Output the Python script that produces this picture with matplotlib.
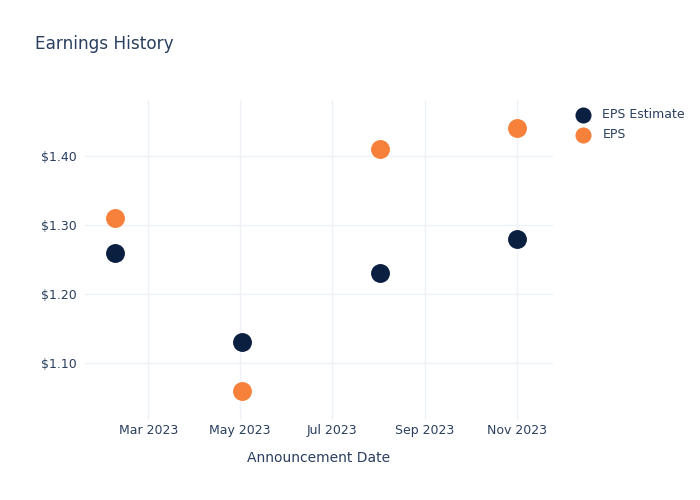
import matplotlib
matplotlib.use("Agg")
import matplotlib.pyplot as plt
import datetime as dt

dates = ["2023-02-07", "2023-05-02", "2023-08-02", "2023-11-01"]
eps_estimate = [1.26, 1.13, 1.23, 1.28]
eps_actual = [1.31, 1.06, 1.41, 1.44]
y_ticks = [1.10, 1.20, 1.30, 1.40]
x_ticks = ["2023-03-01", "2023-05-01", "2023-07-01", "2023-09-01", "2023-11-01"]

plt.rcParams['font.family'] = ['DejaVu Sans']
text_color = "#2a3f5f"
grid_color = "#eef1f6"

fig = plt.figure(figsize=(7, 5), dpi=100)
W, H = 700, 500
ax = fig.add_axes([85 / W, 1 - 420 / H, (553 - 85) / W, (420 - 100) / H])

xd = [dt.datetime.strptime(d, "%Y-%m-%d") for d in dates]
ax.scatter(xd, eps_estimate, s=185, color="#0b1f41", label="EPS Estimate", zorder=3, linewidths=0)
ax.scatter(xd, eps_actual, s=185, color="#f7813a", label="EPS", zorder=3, linewidths=0)

ax.set_xlim(dt.datetime(2023, 1, 18), dt.datetime(2023, 11, 25))
ax.set_ylim(1.0174, 1.481)

ax.set_yticks(y_ticks)
ax.set_yticklabels([f"${v:.2f}" for v in y_ticks])
xt = [dt.datetime.strptime(d, "%Y-%m-%d") for d in x_ticks]
ax.set_xticks(xt)
ax.set_xticklabels([d.strftime("%b %Y") for d in xt])

for s in ax.spines.values():
    s.set_visible(False)
ax.grid(True, color=grid_color, linewidth=1)
ax.set_axisbelow(True)
ax.tick_params(axis='both', length=0, colors=text_color, labelsize=9)
ax.tick_params(axis='y', pad=6)
ax.tick_params(axis='x', pad=3)

ax.set_xlabel("Announcement Date", color=text_color, fontsize=10, labelpad=10)

fig.text(35 / W, 1 - 44 / H, "Earnings History", color=text_color, fontsize=12.2, va='center', ha='left')

leg = ax.legend(loc='upper left', bbox_to_anchor=(565 / W, 1 - 103 / H), bbox_transform=fig.transFigure,
                frameon=False, fontsize=9, labelcolor=text_color, handletextpad=0.6,
                borderaxespad=0, labelspacing=0.55, markerscale=0.85)

fig.savefig("out.png", dpi=100)
